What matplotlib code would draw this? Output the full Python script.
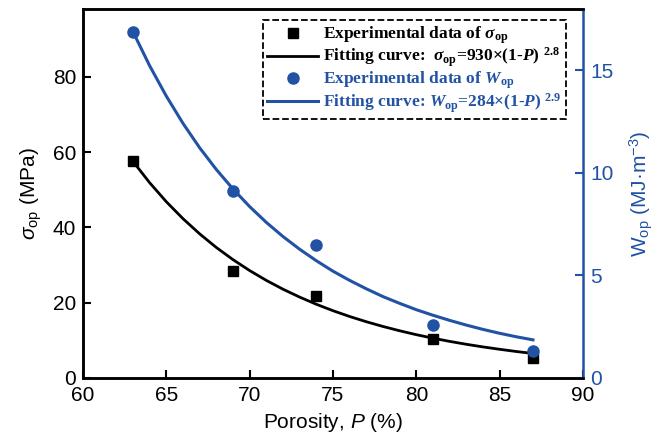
import matplotlib
matplotlib.use('Agg')
import matplotlib.pyplot as plt

# Данные
porosity = [63, 69, 74, 81, 87]
sigma_op = [57.5, 28.5, 21.8, 10.4, 5.3]
w_op = [16.9, 9.1, 6.5, 2.6, 1.3]

# Кривые аппроксимации (точки, шаг 1 %)
fit_p = list(range(63, 88))
sigma_fit = [57.52, 51.86, 46.81, 42.31, 38.28, 34.66, 31.43, 28.53, 25.92,
             23.58, 21.48, 19.58, 17.87, 16.33, 14.94, 13.68, 12.54, 11.50,
             10.57, 9.72, 8.95, 8.25, 7.62, 7.03, 6.51]
w_fit = [16.89, 15.23, 13.75, 12.42, 11.23, 10.17, 9.22, 8.36, 7.59, 6.90,
         6.28, 5.72, 5.21, 4.76, 4.35, 3.97, 3.64, 3.33, 3.06, 2.81, 2.58,
         2.37, 2.18, 2.01, 1.86]

blue = '#2152a3'

plt.rcParams['font.family'] = 'Liberation Sans'
plt.rcParams['mathtext.fontset'] = 'custom'
plt.rcParams['mathtext.rm'] = 'Liberation Serif:bold'
plt.rcParams['mathtext.it'] = 'Liberation Serif:italic:bold'
plt.rcParams['mathtext.bf'] = 'Liberation Serif:bold'
plt.rcParams['mathtext.sf'] = 'Liberation Sans'
plt.rcParams['mathtext.cal'] = 'Liberation Sans:italic'

fig = plt.figure(figsize=(6.56, 4.45), dpi=100)
ax = fig.add_axes([0.1265, 0.1506, 0.7622, 0.8292])
ax2 = ax.twinx()

h1, = ax.plot(porosity, sigma_op, 's', color='black', ms=7, zorder=3)
h2, = ax.plot(fit_p, sigma_fit, '-', color='black', lw=2)
h3, = ax2.plot(porosity, w_op, 'o', color=blue, ms=8, zorder=3)
h4, = ax2.plot(fit_p, w_fit, '-', color=blue, lw=2.2)

ax.set_xlim(60, 90)
ax.set_ylim(0, 98)
ax2.set_ylim(0, 18)
ax.set_xticks([60, 65, 70, 75, 80, 85, 90])
ax.set_yticks([0, 20, 40, 60, 80])
ax2.set_yticks([0, 5, 10, 15])

ax.tick_params(direction='in', length=6, width=1.5, labelsize=15, pad=5)
ax.tick_params(axis='x', pad=6)
ax2.tick_params(direction='in', length=6, width=1.5, labelsize=15, pad=5,
                colors=blue)

for s in ['left', 'bottom', 'top']:
    ax.spines[s].set_linewidth(1.8)
    ax2.spines[s].set_linewidth(1.8)
ax2.spines['right'].set_linewidth(1.8)
ax2.spines['right'].set_color(blue)
ax.spines['right'].set_visible(False)

ax.set_xlabel(r'Porosity, $\mathcal{P}$ (%)', fontsize=15, labelpad=4)
ax.set_ylabel(r'$\mathcal{\sigma}_{\mathsf{op}}$ (MPa)', fontsize=15, labelpad=6)
ax2.set_ylabel(r'$\mathsf{W}_{\mathsf{op}}$ (MJ·m$^{\mathsf{-3}}$)', fontsize=15,
               color=blue, labelpad=10)

labels = [r'Experimental data of $\sigma_{\rm op}$',
          r'Fitting curve:  $\sigma_{\rm op}$=930×(1-$P$) $^{2.8}$',
          r'Experimental data of $W_{\rm op}$',
          r'Fitting curve: $W_{\rm op}$=284×(1-$P$) $^{2.9}$']
leg = ax2.legend([h1, h2, h3, h4], labels, loc='upper right',
                 bbox_to_anchor=(0.966, 0.97), borderaxespad=0,
                 fancybox=False, framealpha=1,
                 prop={'family': 'Liberation Serif', 'weight': 'bold', 'size': 12.5},
                 handlelength=2.9, handletextpad=0.3, labelspacing=0.0,
                 borderpad=0.25)
leg.get_frame().set_edgecolor('black')
leg.get_frame().set_linestyle('--')
leg.get_frame().set_linewidth(1.3)
for t, c in zip(leg.get_texts(), ['black', 'black', blue, blue]):
    t.set_color(c)

fig.savefig('out.png', dpi=100)
